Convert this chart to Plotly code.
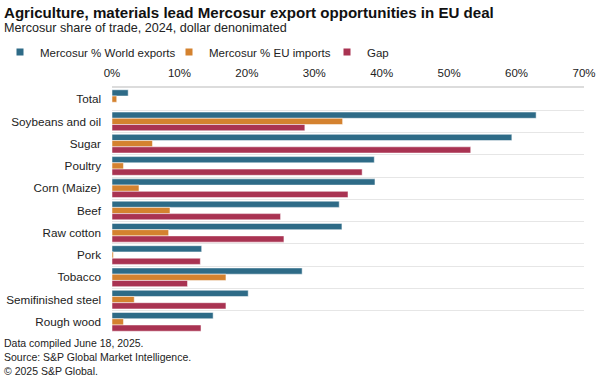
import plotly.graph_objects as go

categories = ["Total", "Soybeans and oil", "Sugar", "Poultry", "Corn (Maize)", "Beef",
              "Raw cotton", "Pork", "Tobacco", "Semifinished steel", "Rough wood"]
world_exports = [2.4, 62.9, 59.3, 38.9, 39.0, 33.7, 34.1, 13.3, 28.2, 20.2, 15.0]
eu_imports = [0.7, 34.2, 6.0, 1.7, 4.0, 8.6, 8.4, 0.2, 16.9, 3.3, 1.7]
gap = [None, 28.6, 53.2, 37.1, 35.0, 25.0, 25.5, 13.1, 11.2, 16.9, 13.2]
x_ticks = [0, 10, 20, 30, 40, 50, 60, 70]
x_tick_labels = ["0%", "10%", "20%", "30%", "40%", "50%", "60%", "70%"]

series = [
    ("Mercosur % World exports", world_exports, "#2e6b87"),
    ("Mercosur % EU imports", eu_imports, "#d4822f"),
    ("Gap", gap, "#a93352"),
]
legend_ids = ["legend", "legend2", "legend3"]
legend_px = [-2, 169, 327]

FONT = "Liberation Sans, Arial, sans-serif"
W, H = 600, 381
L, R, T, B = 112, 16, 88, 48
PH = H - T - B

fig = go.Figure()
for name, vals, col in series:
    fig.add_trace(go.Bar(
        y=categories, x=vals, orientation="h", name=name,
        marker=dict(color=col, line=dict(color="white", width=0.5)),
        showlegend=False,
    ))
for (name, vals, col), lid in zip(series, legend_ids):
    fig.add_trace(go.Scatter(
        x=[None], y=[None], mode="markers", name=name, legend=lid,
        marker=dict(symbol="square", size=7, color=col),
    ))

leg_common = dict(orientation="h", xref="container", yref="container",
                  xanchor="left", yanchor="middle", font=dict(size=11.5, color="#222"),
                  itemwidth=30, bgcolor="rgba(0,0,0,0)", borderwidth=0)
layout_legends = {}
for lid, px in zip(legend_ids, legend_px):
    layout_legends[lid] = dict(leg_common, x=px / W, y=1 - 52 / H)

fig.update_layout(
    width=W, height=H,
    margin=dict(l=L, r=R, t=T, b=B, autoexpand=False),
    paper_bgcolor="white", plot_bgcolor="white",
    barmode="group", bargap=0.16, bargroupgap=0,
    font=dict(family=FONT, size=11, color="#222"),
    showlegend=True,
    xaxis=dict(side="top", range=[0, 70], tickvals=x_ticks, ticktext=x_tick_labels,
               showgrid=False, zeroline=False, showline=True, linecolor="#dcdcdc",
               linewidth=2, ticks="", tickfont=dict(size=11.5, color="#222"),
               ticklabelstandoff=4, fixedrange=True, automargin=False),
    yaxis=dict(autorange="reversed", type="category", tickson="boundaries",
               showgrid=True, gridcolor="#e6e6e6", gridwidth=1, ticks="",
               showline=False, tickfont=dict(size=11.7, color="#222"),
               ticklabelstandoff=10, fixedrange=True, automargin=False),
    **layout_legends,
)

annos = [
    ("<b>Agriculture, materials lead Mercosur export opportunities in EU deal</b>", 12, 15.1, "#111"),
    ("Mercosur share of trade, 2024, dollar denonimated", 28.5, 12.6, "#222"),
    ("Data compiled June 18, 2025.", 343, 10.5, "#222"),
    ("Source: S&P Global Market Intelligence.", 357, 10.5, "#222"),
    ("© 2025 S&P Global.", 371, 10.5, "#222"),
]
for txt, yc, sz, col in annos:
    fig.add_annotation(text=txt, xref="paper", yref="paper",
                       x=(2 - L) / (W - L - R), y=(H - B - yc) / PH,
                       xanchor="left", yanchor="middle", showarrow=False,
                       font=dict(size=sz, color=col, family=FONT))

fig.write_html("out.html", config={"displayModeBar": False},
               post_script="document.body.style.margin='0';document.body.style.overflow='hidden';")
